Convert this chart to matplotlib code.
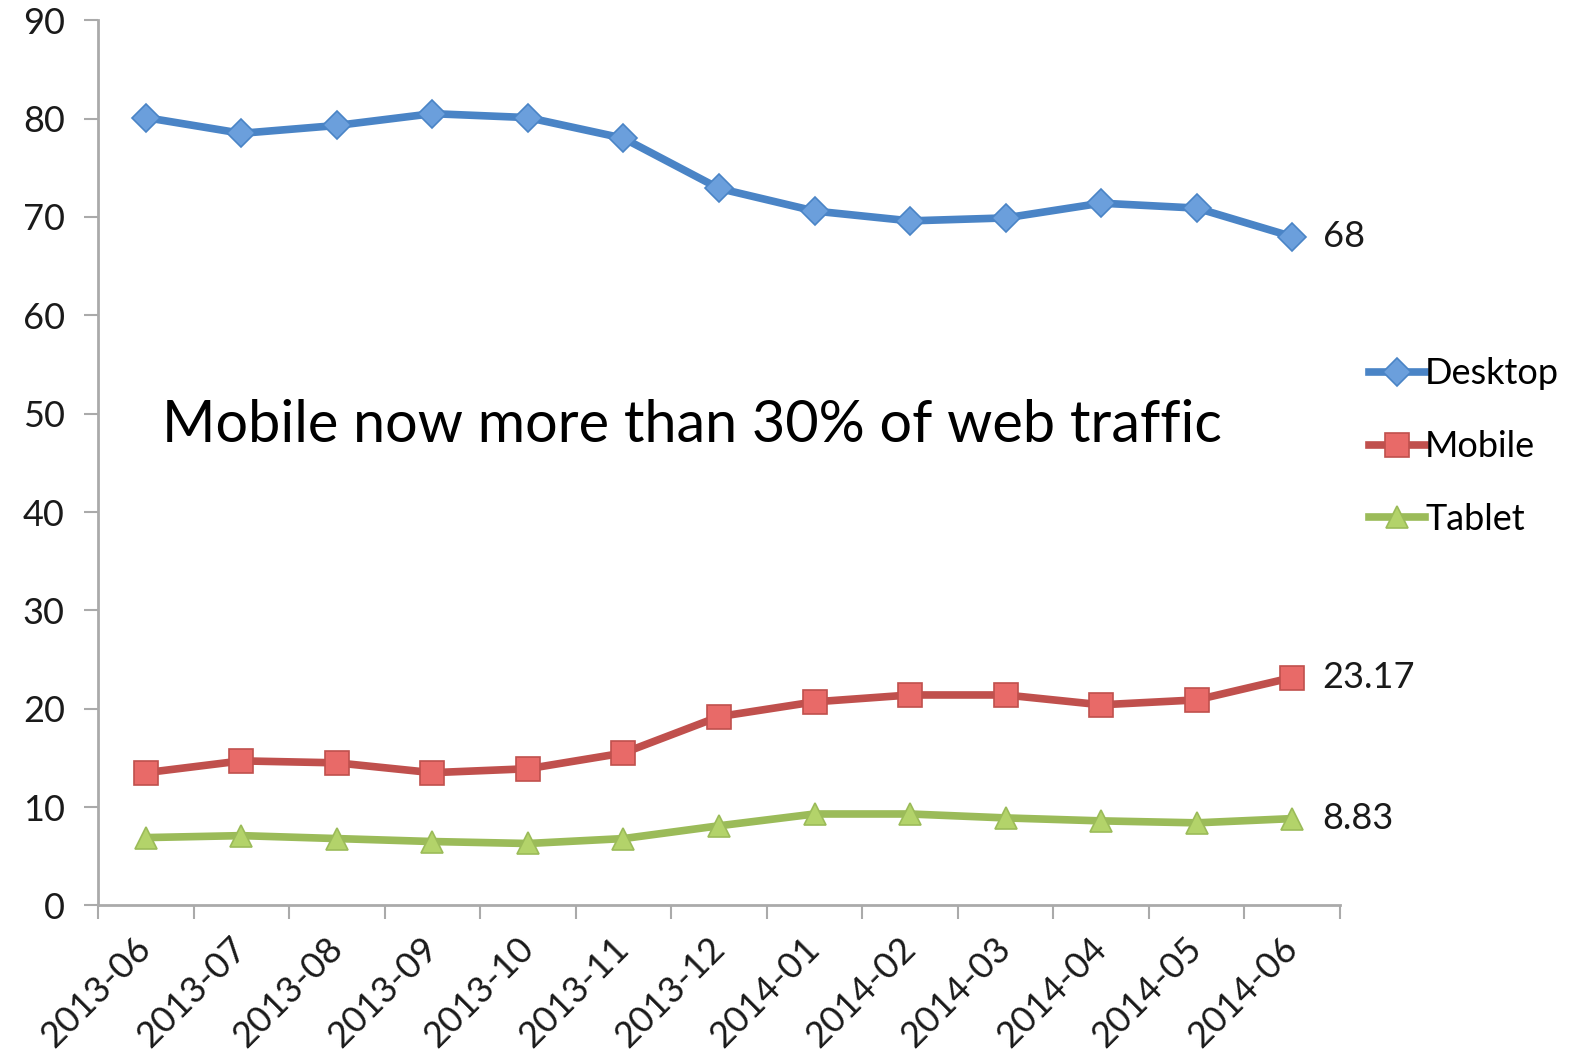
import numpy as np
import matplotlib
matplotlib.use("Agg")
import matplotlib.pyplot as plt

months = ["2013-06", "2013-07", "2013-08", "2013-09", "2013-10", "2013-11",
          "2013-12", "2014-01", "2014-02", "2014-03", "2014-04", "2014-05",
          "2014-06"]
desktop = [80.1, 78.5, 79.3, 80.5, 80.1, 78.0, 72.9, 70.6, 69.6, 69.9, 71.4, 70.9, 68.0]
mobile = [13.5, 14.7, 14.5, 13.5, 13.9, 15.5, 19.2, 20.7, 21.4, 21.4, 20.4, 20.9, 23.17]
tablet = [6.9, 7.1, 6.8, 6.5, 6.3, 6.8, 8.1, 9.3, 9.3, 8.9, 8.6, 8.4, 8.83]
end_labels = ["68", "23.17", "8.83"]

plt.rcParams['font.family'] = ['Lato', 'DejaVu Sans']

fig = plt.figure(figsize=(15.82, 10.64), dpi=100)
ax = fig.add_axes([0.062, 0.149, 0.785, 0.832])

x = np.arange(len(months))
series = [
    ("Desktop", desktop, "#4a84c6", "#6b9fdc", "D", 14),
    ("Mobile", mobile, "#c0504d", "#e86a68", "s", 17),
    ("Tablet", tablet, "#9bbb59", "#b3d36a", "^", 16),
]
for (name, vals, col, fill, mk, ms), lab in zip(series, end_labels):
    ax.plot(x, vals, color=col, lw=5.5, marker=mk, markersize=ms,
            markerfacecolor=fill, markeredgecolor=col, markeredgewidth=1.2,
            label=name, solid_joinstyle='round')
    ax.annotate(lab, (x[-1], vals[-1]), xytext=(22, 0), textcoords='offset points',
                va='center', ha='left', fontsize=26, color='#1a1a1a')

ax.text(5.72, 48.8, "Mobile now more than 30% of web traffic", fontsize=41.5,
        ha='center', va='center', color='black')

ax.set_xlim(-0.5, 12.5)
ax.set_ylim(0, 90)
ax.set_yticks(np.arange(0, 91, 10))
ax.tick_params(axis='y', labelsize=26, length=10, width=1.5, color='#aaaaaa',
               labelcolor='#1a1a1a', pad=14)

# tick marks sit between months, labels sit under each month
ax.set_xticks(np.arange(len(months) + 1) - 0.5)
ax.set_xticklabels([])
ax.tick_params(axis='x', which='major', length=10, width=1.5, color='#aaaaaa')
ax.set_xticks(x, minor=True)
ax.set_xticklabels(months, minor=True, rotation=45, ha='right', va='center',
                   rotation_mode='anchor', fontsize=26, color='#1a1a1a')
ax.tick_params(axis='x', which='minor', length=0, pad=27)

for s in ['top', 'right']:
    ax.spines[s].set_visible(False)
for s in ['left', 'bottom']:
    ax.spines[s].set_color('#aaaaaa')
    ax.spines[s].set_linewidth(2)

fig.legend(loc='upper left', bbox_to_anchor=(0.854, 0.681), frameon=False,
           fontsize=26, handlelength=1.55, handletextpad=0.0, labelspacing=1.1,
           borderpad=0)

fig.savefig("out.png", dpi=100)
